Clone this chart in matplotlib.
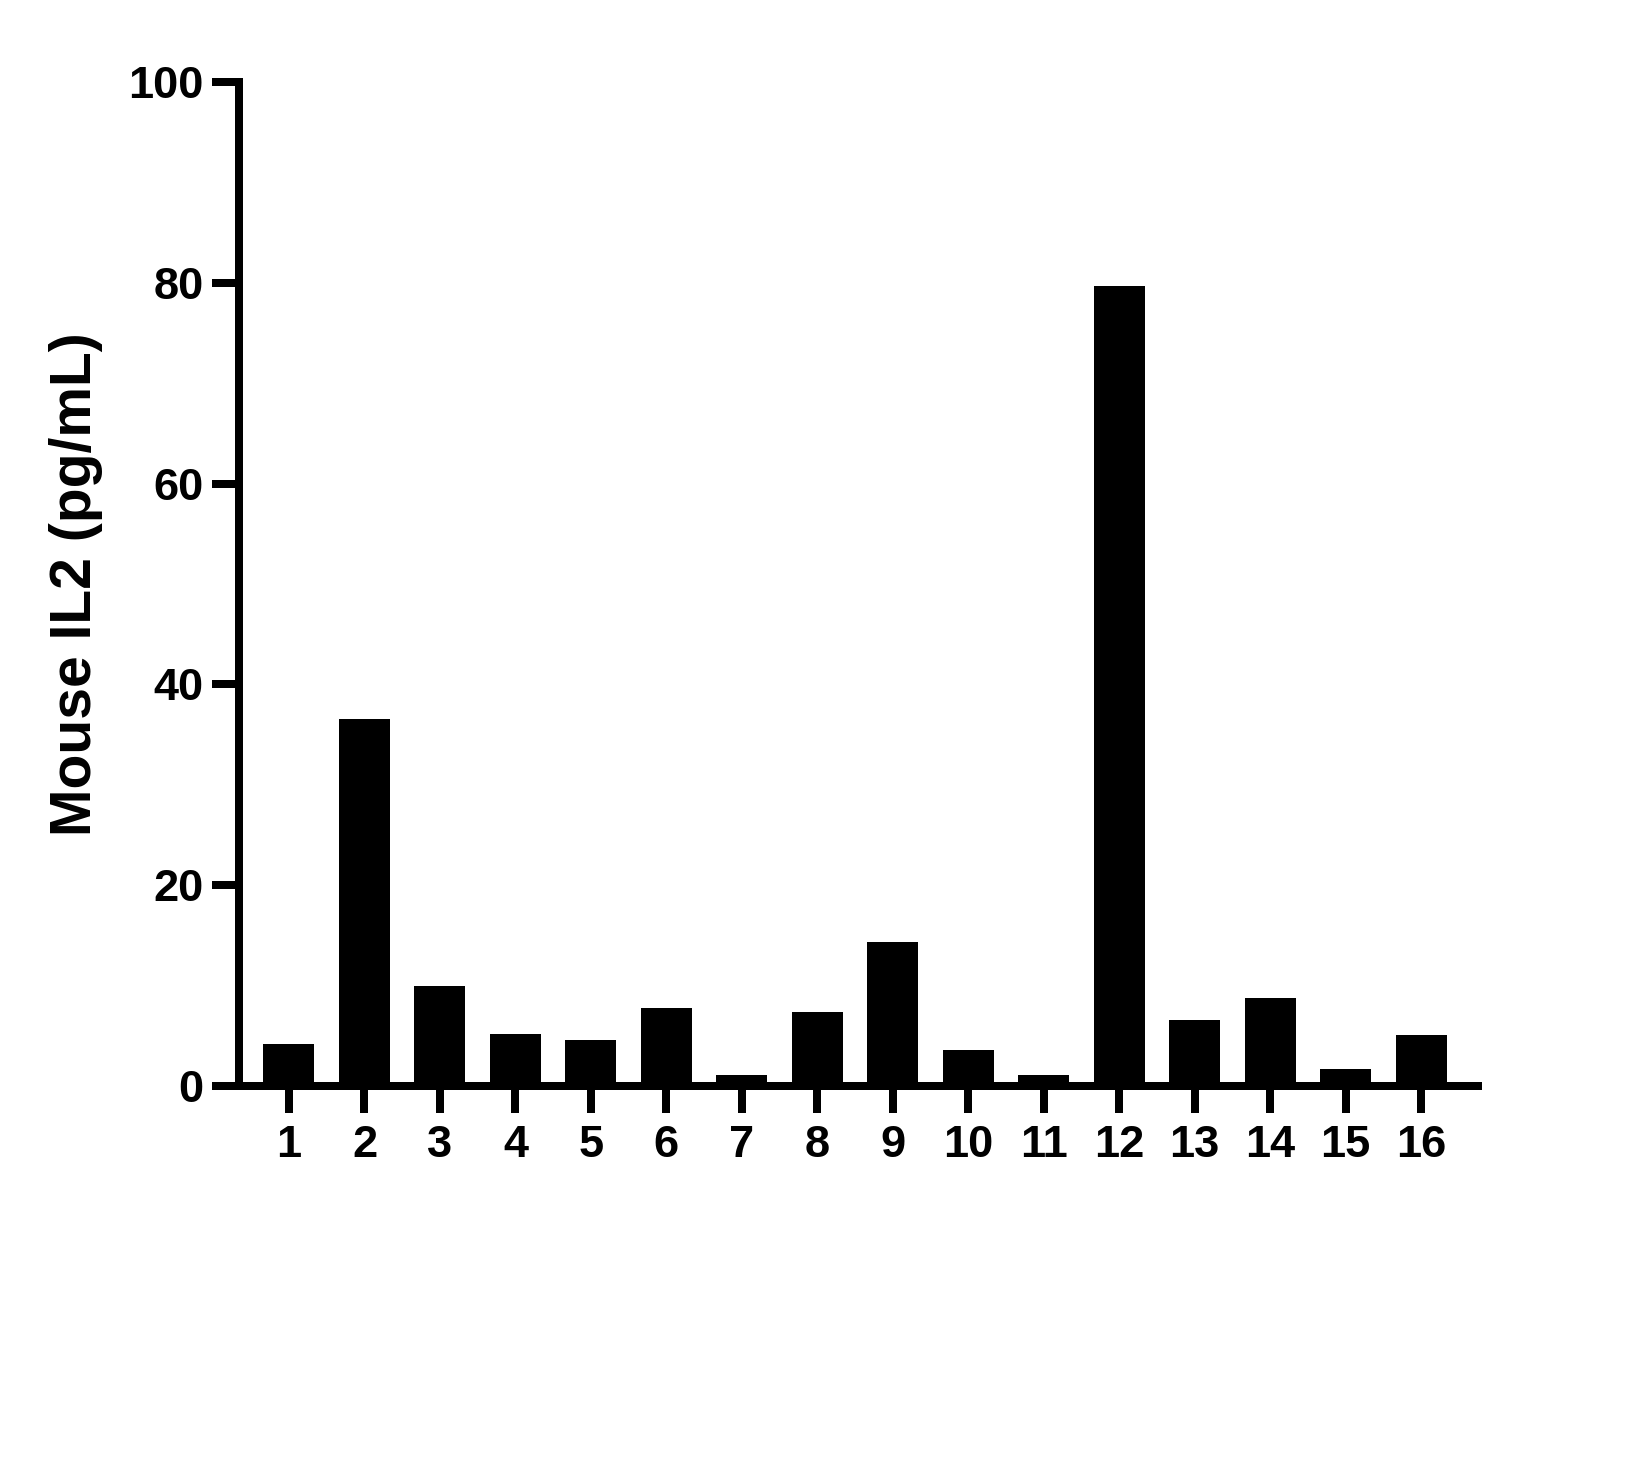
import matplotlib
matplotlib.use('Agg')
import matplotlib.pyplot as plt
import numpy as np

# Sample numbers and measured IL2 levels
samples = ['1', '2', '3', '4', '5', '6', '7', '8',
           '9', '10', '11', '12', '13', '14', '15', '16']
il2_values = [4.2, 36.6, 10.0, 5.2, 4.6, 7.8, 1.1, 7.4,
              14.3, 3.6, 1.1, 79.7, 6.6, 8.75, 1.7, 5.1]
y_ticks = [0, 20, 40, 60, 80, 100]

plt.rcParams['font.family'] = ['Liberation Sans', 'DejaVu Sans']
plt.rcParams['font.weight'] = 'bold'

fig = plt.figure(figsize=(16.39, 14.77), dpi=100)
ax = fig.add_axes([0.1458, 0.2647, 0.9018 - 0.1458, 0.9445 - 0.2647])

x = np.arange(1, len(samples) + 1)
ax.bar(x, il2_values, width=0.676, color='black', edgecolor='none')

ax.set_xlim(0.3375, 16.755)
ax.set_ylim(0, 100)
ax.set_xticks(x)
ax.set_xticklabels(samples)
ax.set_yticks(y_ticks)

for side in ['top', 'right']:
    ax.spines[side].set_visible(False)
for side in ['left', 'bottom']:
    ax.spines[side].set_linewidth(5.76)
    ax.spines[side].set_capstyle('projecting')

ax.tick_params(axis='both', direction='out', length=19.4, width=5.76,
               labelsize=32.5, color='black')
ax.tick_params(axis='y', pad=6)
ax.tick_params(axis='x', pad=9)
for lbl in ax.get_xticklabels() + ax.get_yticklabels():
    lbl.set_fontweight('bold')

ax.set_ylabel('Mouse IL2 (pg/mL)', fontsize=41, fontweight='bold', labelpad=18)

fig.savefig('out.png', dpi=100, facecolor='white')
